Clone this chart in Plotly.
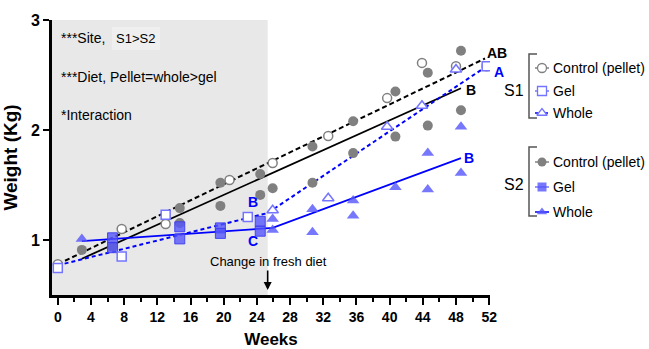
import plotly.graph_objects as go

# ---------------- data ----------------
s1_ctrl_x = [0, 7.7, 13, 20.7, 25.9, 32.6, 39.7, 43.9, 48, 51.7]
s1_ctrl_y = [0.78, 1.10, 1.145, 1.545, 1.70, 1.945, 2.29, 2.61, 2.58, 2.58]

s1_gel_x = [0, 7.7, 13, 22.9, 51.7]
s1_gel_y = [0.745, 0.85, 1.23, 1.21, 2.58]

s1_whole_x = [25.9, 32.6, 39.7, 43.9, 48]
s1_whole_y = [1.27, 1.38, 2.03, 2.22, 2.55]

s2_ctrl_x = [2.9, 6.6, 14.7, 14.7, 19.6, 19.6, 24.4, 24.4, 25.9, 30.7, 30.7,
             35.6, 35.6, 40.7, 40.7, 44.6, 44.6, 48.6, 48.6]
s2_ctrl_y = [0.91, 0.94, 1.29, 1.155, 1.52, 1.31, 1.60, 1.41, 1.47, 1.85, 1.52,
             2.08, 1.79, 2.35, 1.94, 2.52, 2.04, 2.72, 2.18]

s2_gel_x = [6.6, 6.6, 14.7, 14.7, 19.6, 19.6, 24.4, 24.4]
s2_gel_y = [1.02, 0.93, 1.12, 1.01, 1.11, 1.06, 1.17, 1.08]

s2_whole_x = [2.9, 25.9, 25.9, 30.7, 30.7, 35.6, 35.6, 40.7, 44.6, 44.6, 48.6, 48.6]
s2_whole_y = [1.01, 1.19, 1.09, 1.28, 1.07, 1.36, 1.22, 1.48, 1.79, 1.46, 2.03, 1.61]

# fitted lines
fit_s1_ctrl_x = [0, 51.5]
fit_s1_ctrl_y = [0.78, 2.65]
fit_s2_ctrl_x = [2.9, 48.6]
fit_s2_ctrl_y = [0.83, 2.38]
fit_s1_diet_x = [0, 25.3, 51.7]
fit_s1_diet_y = [0.77, 1.245, 2.58]
fit_s2_diet_x = [2.9, 25.9, 48.6]
fit_s2_diet_y = [0.99, 1.11, 1.745]

diet_change_week = 25.3
x_ticks = list(range(0, 53, 4))
y_ticks = [1, 2, 3]

# ---------------- styles ----------------
GRAY = "#808080"
BLUE = "#0000ff"
LBLUE = "#7474ff"
FBLUE = "rgba(85,85,250,0.8)"
FONT = "Liberation Sans, Arial, sans-serif"
CLEAR = "rgba(0,0,0,0)"

fig = go.Figure()

# lines
fig.add_trace(go.Scatter(x=fit_s1_ctrl_x, y=fit_s1_ctrl_y, mode="lines",
                         line=dict(color="black", width=2, dash="5px,3px"), showlegend=False))
fig.add_trace(go.Scatter(x=fit_s2_ctrl_x, y=fit_s2_ctrl_y, mode="lines",
                         line=dict(color="black", width=1.8), showlegend=False))
fig.add_trace(go.Scatter(x=fit_s1_diet_x, y=fit_s1_diet_y, mode="lines",
                         line=dict(color=BLUE, width=2, dash="4px,3px"), showlegend=False))
fig.add_trace(go.Scatter(x=fit_s2_diet_x, y=fit_s2_diet_y, mode="lines",
                         line=dict(color=BLUE, width=1.8), showlegend=False))

# markers
fig.add_trace(go.Scatter(x=s2_ctrl_x, y=s2_ctrl_y, mode="markers",
                         marker=dict(symbol="circle", size=10, color=GRAY, line=dict(width=0)),
                         showlegend=False))
fig.add_trace(go.Scatter(x=s2_gel_x, y=s2_gel_y, mode="markers",
                         marker=dict(symbol="square", size=10, color=FBLUE,
                                     line=dict(color="rgba(60,60,240,0.9)", width=1)),
                         showlegend=False))
fig.add_trace(go.Scatter(x=s2_whole_x, y=s2_whole_y, mode="markers",
                         marker=dict(symbol="triangle-up", size=11, color=FBLUE, line=dict(width=0)),
                         showlegend=False))
fig.add_trace(go.Scatter(x=s1_ctrl_x, y=s1_ctrl_y, mode="markers",
                         marker=dict(symbol="circle", size=9, color="white",
                                     line=dict(color=GRAY, width=1.5)),
                         showlegend=False))
fig.add_trace(go.Scatter(x=s1_gel_x, y=s1_gel_y, mode="markers",
                         marker=dict(symbol="square", size=9, color="white",
                                     line=dict(color=LBLUE, width=1.5)),
                         showlegend=False))
fig.add_trace(go.Scatter(x=s1_whole_x, y=s1_whole_y, mode="markers",
                         marker=dict(symbol="triangle-up", size=10, color="white",
                                     line=dict(color=LBLUE, width=1.5)),
                         showlegend=False))

# ---------------- custom legend on a pixel overlay axis ----------------
leg_rows = [
    (68, "circle", "white", GRAY, GRAY, "2px,2px", "Control (pellet)"),
    (91, "square", "white", LBLUE, LBLUE, "solid", "Gel"),
    (113, "triangle-up", "white", LBLUE, BLUE, "3px,2px", "Whole"),
    (162, "circle", GRAY, GRAY, GRAY, "solid", "Control (pellet)"),
    (187, "square", FBLUE, "rgba(60,60,240,0.9)", LBLUE, "solid", "Gel"),
    (212, "triangle-up", FBLUE, FBLUE, BLUE, "solid", "Whole"),
]
for ypix, sym, fc, lc, linec, dash, label in leg_rows:
    fig.add_trace(go.Scatter(x=[535, 549], y=[ypix, ypix], mode="lines",
                             line=dict(color=linec, width=1.5, dash=dash),
                             xaxis="x2", yaxis="y2", showlegend=False))
    fig.add_trace(go.Scatter(x=[542], y=[ypix], mode="markers",
                             marker=dict(symbol=sym, size=9, color=fc,
                                         line=dict(color=lc, width=1.3 if fc == "white" else 0)),
                             xaxis="x2", yaxis="y2", showlegend=False))

shapes = [
    dict(type="rect", xref="x", yref="y", x0=-0.7, x1=diet_change_week, y0=0.5, y1=3,
         fillcolor="#e8e8e8", line=dict(width=0), layer="below"),
    dict(type="rect", xref="x2", yref="y2", x0=112, x1=160, y0=27, y1=50,
         fillcolor="#efefef", line=dict(width=0), layer="below"),
]
for y0, y1 in [(54, 118), (147, 216)]:
    shapes.append(dict(type="path", xref="x2", yref="y2",
                       path=f"M 537 {y0} L 529 {y0} L 529 {y1} L 537 {y1}",
                       line=dict(color="#555555", width=1.5)))

ann = []
def txt(x, y, t, size, color="black", bold=False, xanchor="center", ref="pix"):
    if bold:
        t = f"<b>{t}</b>"
    d = dict(x=x, y=y, text=t, showarrow=False, xanchor=xanchor, yanchor="middle",
             font=dict(family=FONT, size=size, color=color))
    if ref == "pix":
        d.update(xref="x2", yref="y2")
    else:
        d.update(xref="x", yref="y")
    ann.append(d)

txt(59, 38, "***Site,", 14, xanchor="left")
txt(114, 38, "S1>S2", 13, xanchor="left")
txt(59, 77, "***Diet, Pellet=whole>gel", 14, xanchor="left")
txt(59, 115, "*Interaction", 14, xanchor="left")

for ypix, *_rest in leg_rows:
    txt(551, ypix, _rest[-1], 14, xanchor="left")
txt(514, 90, "S1", 16)
txt(514, 184, "S2", 16)

txt(497, 53, "AB", 14, bold=True)
txt(499, 72, "A", 14, color=BLUE, bold=True)
txt(471, 90, "B", 14, bold=True)
txt(469, 158, "B", 14, color=BLUE, bold=True)
txt(23.5, 1.345, "B", 14, color=BLUE, bold=True, ref="data")
txt(23.5, 0.99, "C", 14, color=BLUE, bold=True, ref="data")
txt(268, 261, "Change in fresh diet", 13)

ann.append(dict(x=diet_change_week, y=0.545, xref="x", yref="y", ax=0, ay=-21,
                showarrow=True, arrowhead=2,
                arrowsize=1, arrowwidth=1.6, arrowcolor="black", text=""))

fig.update_layout(
    width=649, height=349, margin=dict(l=0, r=0, t=0, b=0),
    paper_bgcolor="white", plot_bgcolor=CLEAR,
    font=dict(family=FONT, color="black"),
    showlegend=False,
    shapes=shapes, annotations=ann,
    xaxis=dict(domain=[52 / 649, 490 / 649], range=[-0.7, 52.1], tickvals=x_ticks,
               ticks="outside", ticklen=7, tickwidth=2, tickcolor="black",
               showline=True, linewidth=3, linecolor="black", showgrid=False, zeroline=False,
               tickfont=dict(family=FONT, size=14, color="black", weight="bold"),
               minor=dict(dtick=2, tick0=0, ticks="outside", ticklen=4, tickwidth=2,
                          tickcolor="black", showgrid=False),
               title=dict(text="<b>Weeks</b>", font=dict(family=FONT, size=17), standoff=17),
               automargin=False, anchor="y"),
    yaxis=dict(domain=[54 / 349, 329 / 349], range=[0.5, 3], tickvals=y_ticks,
               ticks="outside", ticklen=6, tickwidth=2, tickcolor="black",
               showline=True, linewidth=3, linecolor="black", showgrid=False, zeroline=False,
               tickfont=dict(family=FONT, size=16, color="black", weight="bold"),
               title=dict(text="<b>Weight (Kg)</b>", font=dict(family=FONT, size=19), standoff=10),
               automargin=False, anchor="x"),
    xaxis2=dict(domain=[0, 1], range=[0, 649], visible=False, anchor="y2", fixedrange=True),
    yaxis2=dict(domain=[0, 1], range=[349, 0], visible=False, anchor="x2", fixedrange=True),
)

fig.write_html("out.html")
